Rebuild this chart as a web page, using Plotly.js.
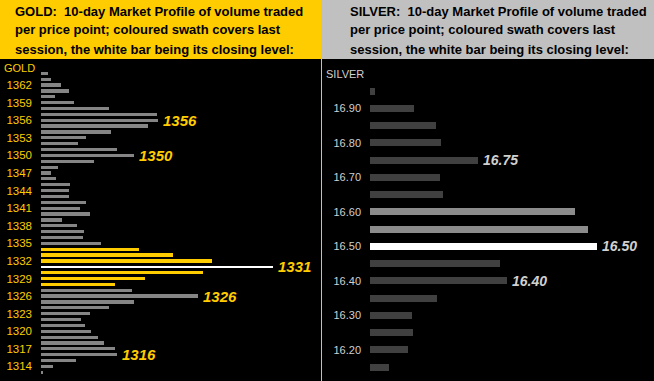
<!DOCTYPE html>
<html>
<head>
<meta charset="utf-8">
<script src="https://cdn.plot.ly/plotly-3.0.1.min.js"></script>
<style>html,body{margin:0;padding:0;background:#000;}#chart{width:654px;height:381px;}</style>
</head>
<body>
<div id="chart"></div>
<script>
// ---- GOLD data ----
const goldPrices = [1364,1363,1362,1361,1360,1359,1358,1357,1356,1355,1354,1353,1352,1351,1350,1349,1348,1347,1346,1345,1344,1343,1342,1341,1340,1339,1338,1337,1336,1335,1334,1333,1332,1331,1330,1329,1328,1327,1326,1325,1324,1323,1322,1321,1320,1319,1318,1317,1316,1315,1314,1313];
const goldVolume = [7,10,20,28,14,33,68,116,117,107,70,45,37,76,93,53,17,10,15,29,28,28,45,39,49,21,36,43,42,60,98,132,171,232,162,104,74,91,157,93,68,49,40,44,50,57,63,74,76,35,12,2];
const goldSwath = [1334,1333,1332,1331,1330,1329,1328];
const goldClose = 1331;
const goldLabels = [1356,1350,1331,1326,1316];
const goldTicks = [1362,1359,1356,1353,1350,1347,1344,1341,1338,1335,1332,1329,1326,1323,1320,1317,1314];

// ---- SILVER data ----
const silverPrices = [16.95,16.90,16.85,16.80,16.75,16.70,16.65,16.60,16.55,16.50,16.45,16.40,16.35,16.30,16.25,16.20,16.15];
const silverVolume = [5,44,66,71,108,70,73,205,218,227,130,137,67,42,43,38,19];
const silverSwath = [16.60,16.55,16.50];
const silverClose = 16.50;
const silverLabels = [16.75,16.50,16.40];
const silverTicks = [16.90,16.80,16.70,16.60,16.50,16.40,16.30,16.20];

const goldHeader = ["GOLD:\u00a0 10-day Market Profile of volume traded", "per price point; coloured swath covers last", "session, the white bar being its closing level:"];
const silverHeader = ["SILVER:\u00a0 10-day Market Profile of volume traded", "per price point; coloured swath covers last", "session, the white bar being its closing level:"];

const YEL = '#FFCC00';
const W = 654, H = 381, HEAD = 59;
const FONT = 'Liberation Sans, Arial, sans-serif';

function colorsFor(prices, swath, close, base, sw) {
  return prices.map(p => Math.abs(p - close) < 1e-9 ? '#FFFFFF' : (swath.some(s => Math.abs(s - p) < 1e-9) ? sw : base));
}

const goldTrace = {
  type: 'bar', orientation: 'h', x: goldVolume, y: goldPrices,
  xaxis: 'x', yaxis: 'y',
  marker: {color: colorsFor(goldPrices, goldSwath, goldClose, '#858585', YEL), line: {width: 0}},
  width: goldPrices.map(p => p === goldClose ? 0.36 : 0.55),
  hoverinfo: 'skip'
};
const silverTrace = {
  type: 'bar', orientation: 'h', x: silverVolume, y: silverPrices,
  xaxis: 'x2', yaxis: 'y2',
  marker: {color: colorsFor(silverPrices, silverSwath, silverClose, '#404040', '#8C8C8C'), line: {width: 0}},
  width: silverPrices.map(() => 0.02),
  hoverinfo: 'skip'
};

const annotations = [];
goldLabels.forEach(p => {
  const v = goldVolume[goldPrices.indexOf(p)];
  annotations.push({xref: 'x', yref: 'y', x: v, y: p, text: String(p), showarrow: false,
    xanchor: 'left', yanchor: 'middle', xshift: 3,
    font: {family: FONT, size: 15, color: YEL, weight: 'bold', style: 'italic'}});
});
silverLabels.forEach(p => {
  const v = silverVolume[silverPrices.findIndex(q => Math.abs(q - p) < 1e-9)];
  annotations.push({xref: 'x2', yref: 'y2', x: v, y: p, text: p.toFixed(2), showarrow: false,
    xanchor: 'left', yanchor: 'middle', xshift: 3,
    font: {family: FONT, size: 14, color: '#D0D0D0', weight: 'bold', style: 'italic'}});
});
const lineY = [11.5, 30, 49];
goldHeader.forEach((t, i) => annotations.push({xref: 'paper', yref: 'paper', x: 13/W, y: 1 - lineY[i]/H,
  xanchor: 'left', yanchor: 'middle', showarrow: false, text: t,
  font: {family: FONT, size: 13, color: '#000', weight: 'bold'}}));
silverHeader.forEach((t, i) => annotations.push({xref: 'paper', yref: 'paper', x: 348/W, y: 1 - lineY[i]/H,
  xanchor: 'left', yanchor: 'middle', showarrow: false, text: t,
  font: {family: FONT, size: 13, color: '#000', weight: 'bold'}}));
annotations.push({xref: 'paper', yref: 'paper', x: 2/W, y: 1 - 68/H, xanchor: 'left', yanchor: 'middle',
  showarrow: false, text: 'GOLD', font: {family: FONT, size: 11, color: YEL}});
annotations.push({xref: 'paper', yref: 'paper', x: 324/W, y: 1 - 74/H, xanchor: 'left', yanchor: 'middle',
  showarrow: false, text: 'SILVER', font: {family: FONT, size: 11, color: '#D0D0D0'}});

const shapes = [
  {type: 'rect', xref: 'paper', yref: 'paper', x0: 0, x1: 321/W, y0: 1 - HEAD/H, y1: 1, fillcolor: YEL, line: {width: 0}, layer: 'below'},
  {type: 'rect', xref: 'paper', yref: 'paper', x0: 321/W, x1: 1, y0: 1 - HEAD/H, y1: 1, fillcolor: '#C0C0C0', line: {width: 0}, layer: 'below'},
  {type: 'line', xref: 'paper', yref: 'paper', x0: 321.5/W, x1: 321.5/W, y0: 0, y1: 1 - HEAD/H, line: {color: '#C0C0C0', width: 1}}
];

const plotTop = 1 - 60/H;
const layout = {
  width: W, height: H,
  margin: {l: 0, r: 0, t: 0, b: 0, pad: 0},
  paper_bgcolor: '#000', plot_bgcolor: 'rgba(0,0,0,0)',
  showlegend: false, bargap: 0,
  font: {family: FONT},
  xaxis: {domain: [41/W, 321/W], range: [0, 280], visible: false, fixedrange: true},
  yaxis: {domain: [0, plotTop], range: [1311.52, 1366.27], anchor: 'x',
    tickmode: 'array', tickvals: goldTicks, ticktext: goldTicks.map(String),
    showgrid: false, zeroline: false, showline: false, ticks: '',
    ticklabelstandoff: 8,
    tickfont: {size: 11.5, color: YEL, family: FONT}},
  xaxis2: {domain: [370/W, 1], range: [0, 284], visible: false, anchor: 'y2', fixedrange: true},
  yaxis2: {domain: [0, plotTop], range: [16.1096, 17.04], anchor: 'x2',
    tickmode: 'array', tickvals: silverTicks, ticktext: silverTicks.map(v => v.toFixed(2)),
    showgrid: false, zeroline: false, showline: false, ticks: '',
    ticklabelstandoff: 8,
    tickfont: {size: 11, color: '#D0D0D0', family: FONT}},
  shapes: shapes,
  annotations: annotations
};

Plotly.newPlot('chart', [goldTrace, silverTrace], layout, {staticPlot: true, displayModeBar: false});
</script>
</body>
</html>
